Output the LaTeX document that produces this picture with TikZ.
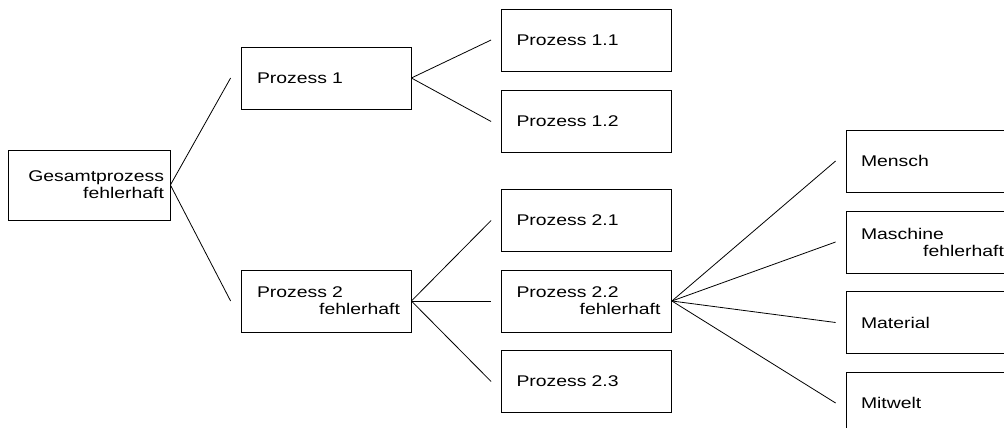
\documentclass[tikz,border=0pt]{standalone}
\usepackage{fontspec}
\setmainfont[FakeStretch=1.25]{Liberation Sans}
\begin{document}
\begin{tikzpicture}[x=1pt,y=-1pt,
  box/.style={draw=black,line width=0.8pt,minimum width=170pt,minimum height=62pt,
    inner xsep=0pt,inner ysep=0pt,text width=170pt,align=left,
    font=\fontsize{15.5}{17}\selectfont},
  gbox/.style={box,minimum width=162pt,text width=162pt,minimum height=70pt,align=right},
  conn/.style={line width=0.8pt}]
\useasboundingbox (0,0) rectangle (1004,428);
\clip (0,0) rectangle (1004,428);
\node[gbox] (G) at (89,185) {Gesamtprozess\hspace*{6pt}\null\\fehlerhaft\hspace*{6pt}\null};
\node[box] (P1) at (326,78) {\hspace*{16pt}Prozess 1};
\node[box] (P2) at (326,301) {\hspace*{16pt}Prozess 2\\\hspace*{\fill}fehlerhaft\hspace*{11pt}\null};
\node[box] (P11) at (586.5,40) {\hspace*{15pt}Prozess 1.1};
\node[box] (P12) at (586.5,121.5) {\hspace*{15pt}Prozess 1.2};
\node[box] (P21) at (586.5,220.5) {\hspace*{15pt}Prozess 2.1};
\node[box] (P22) at (586.5,301) {\hspace*{15pt}Prozess 2.2\\\hspace*{\fill}fehlerhaft\hspace*{11pt}\null};
\node[box] (P23) at (586.5,381.5) {\hspace*{15pt}Prozess 2.3};
\node[box] (M1) at (931,161) {\hspace*{15pt}Mensch};
\node[box] (M2) at (931,242) {\hspace*{15pt}Maschine\\\hspace*{\fill}fehlerhaft\hspace*{12pt}\null};
\node[box] (M3) at (931,322.5) {\hspace*{15pt}Material};
\node[box] (M4) at (931,403) {\hspace*{15pt}Mitwelt};
\foreach \a/\b in {G/P1,G/P2,P1/P11,P1/P12,P2/P21,P2/P22,P2/P23,P22/M1,P22/M2,P22/M3,P22/M4}
  \draw[conn] (\a.east) -- ([xshift=-10pt]\b.west);
\end{tikzpicture}
\end{document}
